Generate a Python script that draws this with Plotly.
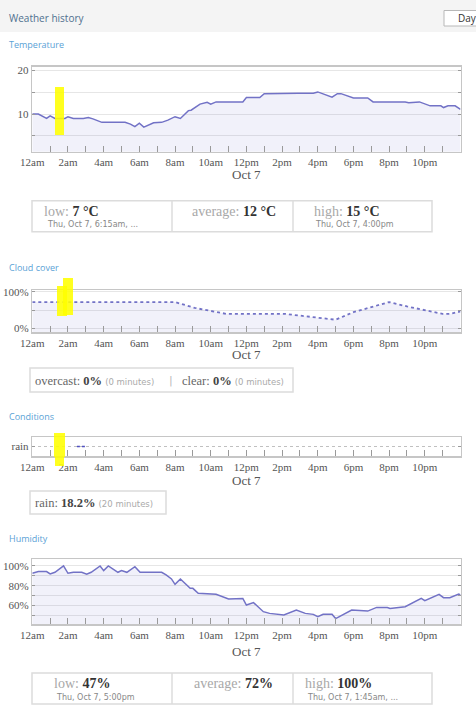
import plotly.graph_objects as go

# ---------------- data ----------------
hour_tickvals = [0, 2, 4, 6, 8, 10, 12, 14, 16, 18, 20, 22]
hour_labels = ["12am", "2am", "4am", "6am", "8am", "10am", "12pm", "2pm", "4pm", "6pm", "8pm", "10pm"]
odd_hours = [1, 3, 5, 7, 9, 11, 13, 15, 17, 19, 21, 23]
date_label = "Oct 7"

temp_hours = [0, 0.34, 0.8, 1.0, 1.27, 1.83, 2.0, 2.3, 2.86, 3.14, 3.4, 3.9, 5.2, 5.5, 5.75, 6.0,
              6.25, 6.8, 7.25, 7.6, 8.0, 8.3, 8.75, 8.9, 9.4, 9.8, 10.0, 10.3, 11.8, 12.0, 12.75,
              13.0, 14.9, 15.75, 16.0, 16.3, 16.8, 17.1, 17.3, 18.0, 18.8, 19.1, 20.9, 21.1, 21.7,
              22.3, 22.9, 23.05, 23.3, 23.7, 24]
temp_vals = [10.0, 10.0, 9.0, 9.6, 9.0, 9.0, 9.4, 9.0, 9.0, 9.2, 8.9, 8.1, 8.1, 7.7, 7.1, 7.9,
             7.0, 8.0, 8.1, 8.6, 9.4, 9.0, 10.8, 10.9, 12.3, 12.7, 12.3, 12.8, 12.8, 13.8, 13.8,
             14.7, 14.8, 14.8, 15.1, 14.7, 13.9, 14.7, 14.7, 13.7, 13.7, 12.8, 12.8, 12.6, 12.8,
             11.9, 11.9, 11.5, 11.9, 11.9, 11.1]
temp_ticks = [10, 20]
temp_minor = [5, 15]

cloud_hours = [0, 8, 9.1, 10.9, 14.2, 15, 16, 17, 18, 19, 20, 21, 22, 23, 23.4, 24]
cloud_vals = [72, 72, 56, 39, 39, 35, 30, 23, 44, 58, 72, 60, 49, 39, 39, 46]
cloud_ticks = [0, 100]
cloud_ticktext = ["0%", "100%"]

rain_hours = [2.5, 2.95]
rain_level = [0, 0]
cond_ticks = [0]
cond_ticktext = ["rain"]

hum_hours = [0, 0.34, 0.8, 1.0, 1.27, 1.75, 2.0, 2.3, 2.77, 3.05, 3.3, 3.8, 4.0, 4.26, 4.8, 5.0,
             5.3, 5.75, 6.04, 7.25, 7.5, 7.8, 8.0, 8.3, 8.85, 9.0, 9.3, 10.3, 11.0, 11.8, 12.0,
             12.4, 12.95, 13.3, 14.1, 14.8, 15.3, 15.75, 16.0, 16.3, 16.8, 17.0, 17.9, 18.8,
             19.3, 19.9, 20.05, 20.9, 21.8, 22.0, 22.8, 23.05, 23.4, 23.9, 24]
hum_vals = [92.6, 94.3, 94.3, 91.9, 93.6, 100, 92.6, 93.6, 93.6, 91.6, 93.6, 100, 95.3, 100,
            93.6, 95.3, 93.6, 99.3, 93.6, 93.6, 90.9, 86.9, 81.5, 86.9, 77.4, 77.4, 72.4, 71.4,
            66.7, 67.3, 60.6, 63.0, 53.9, 52.2, 50.5, 55.6, 52.2, 51.2, 48.8, 51.2, 51.2, 47.0,
            55.6, 54.5, 58.2, 58.2, 57.2, 58.9, 67.3, 65.0, 71.4, 68.0, 68.0, 71.7, 70.7]
hum_ticks = [60, 80, 100]
hum_ticktext = ["60%", "80%", "100%"]
hum_minor = [50, 70, 90]

# ---------------- layout helpers ----------------
W, H = 476, 705


def X(px):
    return px / W


def Y(py):
    return 1 - py / H


PL, PR = 32.3, 460.5
LINE = "#7272c6"
FILL = "rgba(120,120,205,0.10)"
FRAME = "#c6c6c6"
GRID = "#e6e6e6"
TICKC = "#9a9a9a"
SERIF = "Liberation Serif"
SANS = "DejaVu Sans"


def xaxis_cfg(anchor):
    return dict(domain=[X(PL), X(PR)], range=[0, 24], anchor=anchor, automargin=False,
                tickmode="array", tickvals=hour_tickvals, ticktext=hour_labels,
                ticks="inside", ticklen=6, tickcolor=TICKC, tickwidth=1,
                showline=True, linecolor=FRAME, linewidth=1.5, mirror=True,
                showgrid=False, zeroline=False,
                tickfont=dict(family=SERIF, size=11, color="#555"),
                minor=dict(tickmode="array", tickvals=odd_hours, ticks="inside",
                           ticklen=6, tickcolor=TICKC, showgrid=False),
                fixedrange=True)


def yaxis_cfg(anchor, top, bottom, rng, tickvals, ticktext, minor_vals=None, grid=GRID, griddash="solid"):
    d = dict(domain=[Y(bottom), Y(top)], range=rng, anchor=anchor, automargin=False,
             tickmode="array", tickvals=tickvals, ticktext=ticktext,
             ticks="inside", ticklen=3, tickcolor=TICKC,
             showline=True, linecolor=FRAME, linewidth=1.5, mirror="allticks",
             showgrid=True, gridcolor=grid, griddash=griddash, zeroline=False,
             tickfont=dict(family=SERIF, size=11, color="#555"), fixedrange=True)
    if minor_vals:
        d["minor"] = dict(tickmode="array", tickvals=minor_vals, ticks="inside", ticklen=3,
                          tickcolor=TICKC, showgrid=True, gridcolor=grid)
    return d


fig = go.Figure()

# Temperature
fig.add_trace(go.Scatter(x=temp_hours, y=temp_vals, mode="lines", fill="tozeroy", fillcolor=FILL,
                         line=dict(color=LINE, width=1.5), xaxis="x", yaxis="y", showlegend=False))
# Cloud cover (baseline at axis bottom for the fill)
cloud_rng = [-11, 105.5]
fig.add_trace(go.Scatter(x=[0, 24], y=[cloud_rng[0], cloud_rng[0]], mode="lines",
                         line=dict(width=0, color=LINE), xaxis="x2", yaxis="y2", showlegend=False,
                         hoverinfo="skip"))
fig.add_trace(go.Scatter(x=cloud_hours, y=cloud_vals, mode="lines", fill="tonexty", fillcolor=FILL,
                         line=dict(color=LINE, width=1.8, dash="3px,3px"), xaxis="x2", yaxis="y2",
                         showlegend=False))
# Conditions
fig.add_trace(go.Scatter(x=rain_hours, y=rain_level, mode="lines",
                         line=dict(color="#5050c0", width=1.6, dash="3px,2px"),
                         xaxis="x3", yaxis="y3", showlegend=False))
# Humidity
fig.add_trace(go.Scatter(x=hum_hours, y=hum_vals, mode="lines", fill="tozeroy", fillcolor=FILL,
                         line=dict(color=LINE, width=1.5), xaxis="x4", yaxis="y4", showlegend=False))

fig.update_layout(
    width=W, height=H, autosize=False,
    margin=dict(l=0, r=0, t=0, b=0, pad=0),
    paper_bgcolor="white", plot_bgcolor="white",
    xaxis=xaxis_cfg("y"),
    yaxis=yaxis_cfg("x", 66.7, 151.7, [1.35, 20.9], temp_ticks, [str(v) for v in temp_ticks], temp_minor),
    xaxis2=xaxis_cfg("y2"),
    yaxis2=yaxis_cfg("x2", 290, 332, cloud_rng, cloud_ticks, cloud_ticktext, [50]),
    xaxis3=xaxis_cfg("y3"),
    yaxis3=yaxis_cfg("x3", 437, 456, [-1, 1], cond_ticks, cond_ticktext, None, grid="#c0c0c0", griddash="dot"),
    xaxis4=xaxis_cfg("y4"),
    yaxis4=yaxis_cfg("x4", 559, 624, [41.5, 107], hum_ticks, hum_ticktext, hum_minor),
)

shapes = []
annotations = []


def rect(x0, y0, x1, y1, **kw):
    shapes.append(dict(type="rect", xref="paper", yref="paper", x0=X(x0), x1=X(x1),
                       y0=Y(y1), y1=Y(y0), **kw))


def vline(x, y0, y1, color="#dcdcdc", width=1.5):
    shapes.append(dict(type="line", xref="paper", yref="paper", x0=X(x), x1=X(x), y0=Y(y1), y1=Y(y0),
                       line=dict(color=color, width=width)))


def text(x, y, s, size, color, family, anchor="left"):
    annotations.append(dict(xref="paper", yref="paper", x=X(x), y=Y(y), text=s, showarrow=False,
                            xanchor=anchor, yanchor="middle",
                            font=dict(size=size, color=color, family=family)))


# header band
rect(0, 0, 476, 32, fillcolor="#f4f4f4", line=dict(width=0), layer="below")
text(7, 18, "Weather history", 10, "#50708f", "Open Sans")
shapes.append(dict(type="path", xref="paper", yref="paper",
                   path="M {a},{b} L {c},{b} L {c},{d} L {a},{d} Z".format(
                       a=X(444), b=Y(10.5), c=X(480), d=Y(26)),
                   fillcolor="white", line=dict(color="#b8b8b8", width=1)))
text(456, 18.5, "Day", 10, "#333", "Open Sans")

# section titles
SEC = "#5aa2d6"
text(7, 45, "Temperature", 9, SEC, "Open Sans")
text(7, 267, "Cloud cover", 9, SEC, "Open Sans")
text(7, 416, "Conditions", 9, SEC, "Open Sans")
text(7, 538, "Humidity", 9, SEC, "Open Sans")

# date labels
mid = (PL + PR) / 2
for yy in (174, 355, 480, 651):
    text(mid, yy, date_label, 13, "#555", SERIF, anchor="center")

LBL = "#a8a8a8"
VAL = "#333"


def stat(label, value):
    return ("<span style='color:%s'>%s</span> <span style='color:%s'><b>%s</b></span>"
            % (LBL, label, VAL, value))


# temperature summary
rect(32, 200.7, 432, 231.7, fillcolor="rgba(0,0,0,0)", line=dict(color="#dcdcdc", width=1.5))
vline(172, 200.7, 231.7)
vline(293, 200.7, 231.7)
text(42, 211, stat("low:", "7 °C"), 14, LBL, SERIF)
text(45, 224.5, "Thu, Oct 7, 6:15am, ...", 8, "#888", SANS)
text(190, 211, stat("average:", "12 °C"), 14, LBL, SERIF)
text(312, 211, stat("high:", "15 °C"), 14, LBL, SERIF)
text(313, 224.5, "Thu, Oct 7, 4:00pm", 8, "#888", SANS)

# cloud summary
rect(30, 368, 293, 392, fillcolor="rgba(0,0,0,0)", line=dict(color="#dcdcdc", width=1.5))
MIN = "<span style='font-family:DejaVu Sans;font-size:8.5px;color:#aaa'>(0 minutes)</span>"
text(33, 381, "<span style='color:#666'>overcast:</span> <span style='color:#444'><b>0%</b></span> " + MIN,
     12.5, "#666", SERIF)
text(171, 380, "|", 11, "#bbb", SANS, anchor="center")
text(180, 381, "<span style='color:#666'>clear:</span> <span style='color:#444'><b>0%</b></span> " + MIN,
     12.5, "#666", SERIF)

# conditions summary
rect(30, 491, 166, 514, fillcolor="rgba(0,0,0,0)", line=dict(color="#dcdcdc", width=1.5))
text(33, 503, "<span style='color:#666'>rain:</span> <span style='color:#444'><b>18.2%</b></span> "
     "<span style='font-family:DejaVu Sans;font-size:8.5px;color:#aaa'>(20 minutes)</span>",
     12.5, "#666", SERIF)

# humidity summary
rect(32, 673, 432, 704, fillcolor="rgba(0,0,0,0)", line=dict(color="#dcdcdc", width=1.5))
vline(172, 673, 704)
vline(293, 673, 704)
text(52, 683.5, stat("low:", "47%"), 14, LBL, SERIF)
text(54, 697, "Thu, Oct 7, 5:00pm", 8, "#888", SANS)
text(192, 683.5, stat("average:", "72%"), 14, LBL, SERIF)
text(303, 683.5, stat("high:", "100%"), 14, LBL, SERIF)
text(305, 697, "Thu, Oct 7, 1:45am, ...", 8, "#888", SANS)

# yellow highlight marks
YEL = "rgba(255,255,0,0.88)"
rect(55, 87, 64, 135, fillcolor=YEL, line=dict(width=0), layer="above")
rect(57, 286, 67, 316, fillcolor=YEL, line=dict(width=0), layer="above")
rect(63, 278, 73, 315, fillcolor=YEL, line=dict(width=0), layer="above")
rect(54, 433, 65, 457, fillcolor=YEL, line=dict(width=0), layer="above")
rect(55, 457, 64, 466, fillcolor=YEL, line=dict(width=0), layer="above")

fig.update_layout(shapes=shapes, annotations=annotations)
fig.write_html("out.html",
               config={"displayModeBar": False, "staticPlot": True},
               post_script="document.body.style.margin='0';document.body.style.padding='0';"
                           "document.documentElement.style.overflow='hidden';")
